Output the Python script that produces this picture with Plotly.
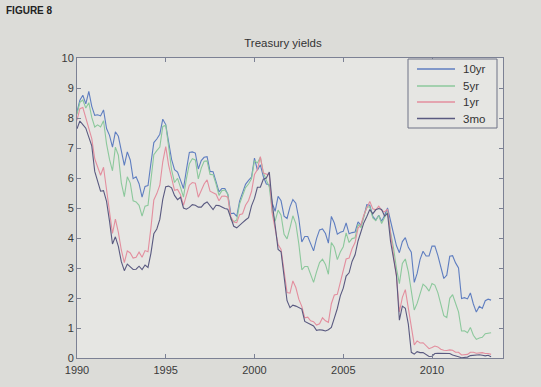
import pandas as pd
import plotly.graph_objects as go

# Bi-monthly observations (Jan, Mar, May, Jul, Sep, Nov), Jan 1990 - May 2013
start_date = "1990-01-01"
step = "2MS"

y10 = [8.21, 8.59, 8.76, 8.47, 8.89, 8.39,
       8.09, 8.11, 8.07, 8.27, 7.65, 7.42,
       7.03, 7.54, 7.39, 6.84, 6.42, 6.87,
       6.60, 5.98, 6.04, 5.81, 5.36, 5.72,
       5.75, 6.48, 7.18, 7.30, 7.46, 7.96,
       7.78, 7.20, 6.62, 6.28, 6.20, 5.93,
       5.65, 6.27, 6.85, 6.87, 6.83, 6.30,
       6.58, 6.69, 6.71, 6.22, 6.21, 5.88,
       5.54, 5.65, 5.65, 5.46, 4.81, 4.83,
       4.72, 5.23, 5.54, 5.79, 5.92, 6.03,
       6.66, 6.26, 6.44, 6.05, 5.80, 5.78,
       5.16, 4.89, 5.39, 5.24, 4.73, 4.65,
       5.04, 5.28, 5.16, 4.65, 3.87, 4.05,
       4.05, 3.81, 3.57, 3.98, 4.27, 4.30,
       4.15, 3.83, 4.72, 4.50, 4.13, 4.19,
       4.22, 4.50, 4.14, 4.18, 4.20, 4.54,
       4.42, 4.72, 5.11, 5.09, 4.72, 4.60,
       4.76, 4.56, 4.75, 5.00, 4.52, 4.15,
       3.74, 3.51, 3.88, 4.01, 3.69, 3.53,
       2.52, 2.82, 3.29, 3.56, 3.40, 3.40,
       3.73, 3.73, 3.42, 3.01, 2.65, 2.76,
       3.39, 3.41, 3.17, 3.00, 1.98, 2.01,
       1.97, 2.17, 1.80, 1.53, 1.72, 1.65,
       1.91, 1.96, 1.93]

y5 = [8.12, 8.52, 8.60, 8.33, 8.51, 8.02,
      7.70, 7.77, 7.70, 7.91, 7.14, 6.62,
      6.24, 7.03, 6.76, 5.84, 5.38, 6.04,
      5.83, 5.24, 5.20, 5.09, 4.73, 5.06,
      5.09, 6.00, 6.78, 6.91, 7.03, 7.72,
      7.76, 7.05, 6.27, 5.85, 5.99, 5.69,
      5.36, 5.97, 6.48, 6.64, 6.60, 5.97,
      6.33, 6.56, 6.57, 6.12, 6.11, 5.80,
      5.42, 5.58, 5.60, 5.46, 4.62, 4.54,
      4.60, 5.14, 5.44, 5.68, 5.80, 5.97,
      6.58, 6.50, 6.69, 6.18, 5.93, 5.70,
      4.86, 4.56, 4.93, 4.76, 4.12, 3.97,
      4.34, 4.74, 4.48, 3.81, 2.94, 3.05,
      3.05, 2.78, 2.52, 2.87, 3.18, 3.29,
      3.12, 2.79, 3.85, 3.69, 3.28, 3.53,
      3.71, 4.17, 3.85, 3.98, 4.01, 4.45,
      4.35, 4.72, 5.03, 5.04, 4.67, 4.58,
      4.75, 4.48, 4.67, 4.88, 4.20, 3.67,
      2.98, 2.48, 3.15, 3.30, 2.88, 2.29,
      1.60, 1.82, 2.13, 2.46, 2.37, 2.23,
      2.48, 2.43, 2.18, 1.76, 1.41, 1.35,
      1.99, 2.11, 1.84, 1.54, 0.90, 0.91,
      0.84, 1.02, 0.76, 0.62, 0.67, 0.69,
      0.81, 0.82, 0.84]

y1 = [7.92, 8.31, 8.35, 8.00, 7.60, 7.31,
      6.64, 6.40, 6.09, 6.36, 5.57, 4.86,
      4.15, 4.63, 4.19, 3.60, 3.18, 3.57,
      3.50, 3.33, 3.36, 3.53, 3.36, 3.58,
      3.54, 4.32, 5.27, 5.48, 5.76, 6.54,
      7.05, 6.43, 5.99, 5.59, 5.62, 5.44,
      5.09, 5.41, 5.76, 5.85, 5.83, 5.36,
      5.61, 5.80, 5.94, 5.56, 5.51, 5.46,
      5.24, 5.39, 5.40, 5.36, 4.71, 4.53,
      4.51, 4.78, 4.81, 5.09, 5.25, 5.55,
      6.12, 6.28, 6.71, 6.17, 6.13, 6.12,
      4.81, 4.30, 3.78, 3.62, 2.82, 2.18,
      2.16, 2.57, 2.35, 1.96, 1.72, 1.34,
      1.36, 1.24, 1.21, 1.10, 1.14, 1.34,
      1.24, 1.19, 1.81, 2.10, 2.12, 2.50,
      2.86, 3.30, 3.33, 3.64, 3.85, 4.33,
      4.45, 4.77, 5.00, 5.22, 4.97, 4.94,
      5.06, 4.92, 4.87, 4.96, 4.14, 3.50,
      2.71, 1.54, 2.02, 2.28, 1.64, 1.07,
      0.44, 0.57, 0.50, 0.51, 0.40, 0.31,
      0.35, 0.40, 0.37, 0.29, 0.26, 0.25,
      0.27, 0.26, 0.19, 0.19, 0.10, 0.11,
      0.12, 0.19, 0.19, 0.16, 0.18, 0.18,
      0.15, 0.15, 0.12]

y3m = [7.64, 7.90, 7.78, 7.66, 7.36, 7.07,
       6.22, 5.91, 5.56, 5.58, 5.22, 4.56,
       3.80, 4.04, 3.72, 3.21, 2.91, 3.13,
       3.02, 2.95, 2.96, 3.06, 2.95, 3.10,
       3.02, 3.48, 4.14, 4.30, 4.62, 5.29,
       5.71, 5.73, 5.67, 5.42, 5.28, 5.36,
       5.00, 4.96, 5.02, 5.11, 5.09, 5.03,
       5.03, 5.14, 5.20, 5.07, 4.95, 5.09,
       5.08, 5.03, 4.98, 4.96, 4.68, 4.39,
       4.34, 4.44, 4.51, 4.60, 4.68, 5.07,
       5.32, 5.69, 5.69, 5.96, 6.00, 6.20,
       5.15, 4.42, 3.62, 3.54, 2.69, 1.91,
       1.68, 1.76, 1.73, 1.68, 1.63, 1.22,
       1.17, 1.13, 1.07, 0.92, 0.94, 0.93,
       0.90, 0.94, 1.02, 1.33, 1.65, 2.07,
       2.33, 2.73, 2.84, 3.22, 3.44, 3.90,
       4.24, 4.51, 4.72, 4.95, 4.81, 4.94,
       4.98, 4.95, 4.73, 4.82, 3.89, 3.27,
       2.75, 1.26, 1.73, 1.66, 1.13, 0.19,
       0.13, 0.21, 0.18, 0.18, 0.12, 0.05,
       0.06, 0.15, 0.16, 0.16, 0.15, 0.14,
       0.15, 0.10, 0.06, 0.04, 0.01, 0.01,
       0.03, 0.08, 0.09, 0.10, 0.11, 0.09,
       0.07, 0.09, 0.04]

series_names = ["10yr", "5yr", "1yr", "3mo"]
series_colors = ["#5f7ec0", "#8cc89c", "#e38e9e", "#5a5a80"]
x_tick_labels = ["1990", "1995", "2000", "2005", "2010"]

dates = pd.date_range(start=start_date, periods=len(y10), freq=step)

W, H = 541, 387
L, R, T, B = 77, 38, 58, 29
pw, ph = W - L - R, H - T - B


def px_to_paper(px, py):
    return (px - L) / pw, (H - B - py) / ph


fig = go.Figure()
for name, vals, col in zip(series_names, [y10, y5, y1, y3m], series_colors):
    fig.add_trace(go.Scatter(x=dates, y=vals, mode="lines", name=name,
                             line=dict(color=col, width=1.1)))

axis_col = "#7c8194"
bg_plot = "#e6e6e3"

# Legend drawn as a boxed key in the upper right corner
shapes = []
annotations = []
bx0, by0 = px_to_paper(408, 128)
bx1, by1 = px_to_paper(497, 59)
shapes.append(dict(type="rect", xref="paper", yref="paper", x0=bx0, y0=by0, x1=bx1, y1=by1,
                   line=dict(color="#6e7386", width=1), fillcolor=bg_plot, layer="above"))
row_y = [69, 86, 102, 118.5]
for name, col, ry in zip(series_names, series_colors, row_y):
    lx0, ly = px_to_paper(417, ry)
    lx1, _ = px_to_paper(455, ry)
    shapes.append(dict(type="line", xref="paper", yref="paper", x0=lx0, x1=lx1, y0=ly, y1=ly,
                       line=dict(color=col, width=1.3), layer="above"))
    tx, _ = px_to_paper(461, ry)
    annotations.append(dict(text=name, xref="paper", yref="paper", x=tx, y=ly,
                            xanchor="left", yanchor="middle", showarrow=False,
                            font=dict(size=11.5, color="#333333")))

fx, fy = px_to_paper(4, 11)
annotations.append(dict(text="<b>FIGURE 8</b>", xref="paper", yref="paper",
                        x=fx, y=fy, xanchor="left", yanchor="middle", showarrow=False,
                        font=dict(size=10, color="#222222")))

fig.update_layout(
    width=W, height=H,
    margin=dict(l=L, r=R, t=T, b=B),
    paper_bgcolor="#dcdcd8",
    plot_bgcolor=bg_plot,
    font=dict(family="Liberation Sans, Arial, sans-serif", size=11, color="#3a3a3a"),
    title=dict(text="Treasury yields", x=(283 / W), xanchor="center", y=1 - 43 / H, yanchor="middle",
               font=dict(size=11.5, color="#333333")),
    showlegend=False,
    shapes=shapes,
    annotations=annotations,
)

tick_vals = pd.to_datetime([f"{t}-01-01" for t in x_tick_labels])
fig.update_xaxes(range=["1990-01-01", "2014-01-01"],
                 tickvals=tick_vals, ticktext=x_tick_labels,
                 showgrid=False, zeroline=False,
                 showline=True, linecolor=axis_col, linewidth=1, mirror="ticks",
                 ticks="inside", ticklen=4, tickcolor=axis_col, ticklabelstandoff=2)
fig.update_yaxes(range=[0, 10], dtick=1,
                 showgrid=False, zeroline=False,
                 showline=True, linecolor=axis_col, linewidth=1, mirror="ticks",
                 ticks="inside", ticklen=4, tickcolor=axis_col)

fig.write_html("out.html",
               config={"displayModeBar": False},
               post_script="document.body.style.margin='0';document.body.style.background='#dcdcd8';")
